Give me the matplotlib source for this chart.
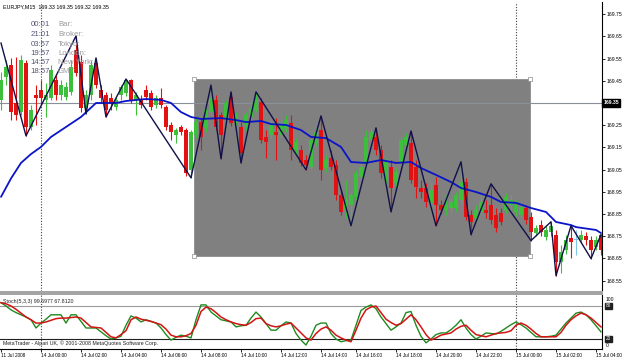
import matplotlib
matplotlib.use('Agg')
import matplotlib.pyplot as plt
from matplotlib.patches import Rectangle
import matplotlib.transforms as mtransforms
import numpy as np

plt.rcParams['font.family'] = ['Liberation Sans', 'DejaVu Sans']

# ---------------- data ----------------
opens = [169.364, 169.467, 169.521, 169.350, 169.310, 169.530, 169.242, 169.386, 169.409, 169.364,
         169.373, 169.454, 169.386, 169.377, 169.400, 169.589, 169.535, 169.328, 169.386, 169.530,
         169.409, 169.386, 169.373, 169.332, 169.386, 169.395, 169.454, 169.364, 169.364, 169.409,
         169.395, 169.341, 169.373, 169.332, 169.251, 169.206, 169.242, 169.229, 169.049, 169.206,
         169.265, 169.238, 169.310, 169.364, 169.296, 169.283, 169.377, 169.265, 169.242, 169.251,
         169.287, 169.319, 169.355, 169.197, 169.206, 169.220, 169.206, 169.238, 169.260, 169.139,
         169.139, 169.094, 169.062, 169.170, 169.229, 169.058, 169.103, 169.071, 168.937, 168.869,
         168.892, 168.928, 169.017, 169.080, 169.184, 169.197, 169.139, 169.004, 169.062, 168.991,
         169.080, 169.161, 169.170, 169.062, 168.968, 168.968, 168.901, 168.982, 168.892, 168.869,
         168.878, 168.878, 168.914, 168.995, 168.847, 168.833, 168.860, 168.869, 168.892, 168.847,
         168.856, 168.869, 168.892, 168.860, 168.847, 168.878, 168.838, 168.765, 168.801, 168.748,
         168.770, 168.757, 168.635, 168.689, 168.743, 168.734, 168.734, 168.752, 168.734, 168.703,
         168.757]
closes = [169.454, 169.512, 169.310, 169.296, 169.544, 169.242, 169.319, 169.373, 169.373, 169.386,
          169.499, 169.386, 169.431, 169.422, 169.512, 169.485, 169.328, 169.386, 169.521, 169.431,
          169.373, 169.319, 169.350, 169.364, 169.422, 169.454, 169.364, 169.386, 169.341, 169.377,
          169.332, 169.373, 169.341, 169.242, 169.220, 169.229, 169.220, 169.035, 169.220, 169.265,
          169.197, 169.319, 169.373, 169.242, 169.206, 169.350, 169.260, 169.296, 169.126, 169.296,
          169.328, 169.364, 169.184, 169.175, 169.260, 169.206, 169.251, 169.274, 169.139, 169.175,
          169.080, 169.071, 169.184, 169.220, 169.049, 169.094, 169.062, 168.937, 168.860, 168.914,
          168.937, 169.035, 169.062, 169.197, 169.220, 169.139, 169.035, 169.085, 168.968, 169.040,
          169.184, 169.197, 169.004, 168.973, 168.950, 168.905, 168.959, 168.892, 168.869, 168.892,
          168.905, 168.937, 168.995, 168.838, 168.815, 168.869, 168.905, 168.856, 168.824, 168.788,
          168.815, 168.928, 168.914, 168.892, 168.883, 168.824, 168.770, 168.788, 168.770, 168.779,
          168.797, 168.635, 168.680, 168.734, 168.725, 168.734, 168.757, 168.734, 168.689, 168.734,
          168.689]
highs = [169.490, 169.544, 169.553, 169.557, 169.566, 169.544, 169.341, 169.431, 169.454, 169.440,
         169.521, 169.476, 169.454, 169.445, 169.544, 169.652, 169.566, 169.409, 169.544, 169.553,
         169.431, 169.400, 169.395, 169.377, 169.431, 169.458, 169.458, 169.400, 169.386, 169.431,
         169.409, 169.386, 169.418, 169.341, 169.265, 169.238, 169.251, 169.238, 169.229, 169.283,
         169.283, 169.341, 169.431, 169.386, 169.310, 169.364, 169.400, 169.310, 169.265, 169.310,
         169.364, 169.400, 169.373, 169.229, 169.274, 169.283, 169.274, 169.296, 169.296, 169.193,
         169.161, 169.116, 169.193, 169.238, 169.292, 169.116, 169.139, 169.094, 168.959, 169.004,
         168.950, 169.049, 169.094, 169.229, 169.238, 169.238, 169.161, 169.103, 169.094, 169.058,
         169.197, 169.215, 169.224, 169.094, 169.004, 168.991, 168.991, 169.017, 168.914, 168.937,
         168.923, 168.950, 169.085, 169.013, 168.869, 168.892, 168.937, 168.914, 168.986, 168.878,
         168.878, 168.946, 168.937, 168.914, 168.901, 168.892, 168.860, 168.801, 168.824, 168.797,
         168.815, 168.779, 168.712, 168.757, 168.797, 168.779, 168.779, 168.770, 168.752, 168.752,
         168.757]
lows = [169.319, 169.431, 169.274, 169.274, 169.296, 169.202, 169.229, 169.251, 169.341, 169.287,
        169.364, 169.364, 169.364, 169.364, 169.386, 169.472, 169.310, 169.301, 169.364, 169.418,
        169.350, 169.287, 169.319, 169.319, 169.364, 169.382, 169.350, 169.296, 169.328, 169.364,
        169.319, 169.328, 169.328, 169.229, 169.184, 169.170, 169.206, 169.022, 169.013, 169.193,
        169.139, 169.220, 169.296, 169.229, 169.099, 169.265, 169.247, 169.251, 169.080, 169.229,
        169.274, 169.310, 169.170, 169.103, 169.193, 169.094, 169.193, 169.220, 169.094, 169.116,
        169.067, 169.049, 169.053, 169.157, 169.004, 169.040, 169.049, 168.914, 168.847, 168.833,
        168.797, 168.914, 169.004, 169.067, 169.161, 169.116, 169.013, 168.982, 168.860, 168.968,
        169.067, 169.139, 168.991, 168.923, 168.923, 168.883, 168.883, 168.797, 168.851, 168.847,
        168.860, 168.865, 168.896, 168.824, 168.757, 168.815, 168.847, 168.833, 168.806, 168.770,
        168.801, 168.856, 168.869, 168.842, 168.833, 168.806, 168.730, 168.752, 168.752, 168.734,
        168.752, 168.572, 168.586, 168.671, 168.653, 168.667, 168.721, 168.712, 168.649, 168.689,
        168.667]

ma_bars = [0, 2, 4, 6, 8, 10, 13, 16, 19, 23, 25, 29, 32, 34, 36, 38, 40, 44, 47, 49,
           52, 54, 57, 60, 62, 65, 68, 70, 73, 76, 79, 82, 84, 87, 90, 92, 95, 98, 100, 103,
           106, 109, 111, 114, 115, 119, 120]
ma_vals = [168.927, 169.010, 169.080, 169.120, 169.152, 169.197, 169.242, 169.287, 169.350, 169.350,
           169.359, 169.368, 169.364, 169.350, 169.309, 169.287, 169.278, 169.282, 169.273, 169.264,
           169.269, 169.255, 169.251, 169.228, 169.197, 169.192, 169.152, 169.084, 169.080, 169.093,
           169.080, 169.084, 169.057, 169.026, 168.994, 168.967, 168.949, 168.927, 168.904, 168.900,
           168.877, 168.859, 168.814, 168.800, 168.791, 168.778, 168.764]

zz_bars = [0, 5, 15, 17, 19, 21, 25, 38, 42, 44, 46, 48, 51, 61, 64, 70, 75, 78, 82, 87,
           92, 94, 98, 106, 110, 111, 114, 118, 120]
zz_vals = [169.620, 169.202, 169.652, 169.301, 169.553, 169.287, 169.458, 169.013, 169.431, 169.099,
           169.400, 169.080, 169.400, 169.049, 169.292, 168.797, 169.238, 168.860, 169.224, 168.797,
           169.085, 168.757, 168.986, 168.730, 168.815, 168.572, 168.797, 168.649, 168.757]

stoch_k = [86, 80, 73, 68, 64, 60, 55, 40, 49, 56, 64, 64, 64, 49, 64, 64, 52, 40, 40, 40,
           33, 26, 20, 22, 25, 45, 62, 58, 51, 55, 52, 49, 40, 28, 18, 23, 27, 25, 22, 55,
           82, 82, 69, 62, 55, 53, 51, 42, 44, 45, 58, 69, 60, 48, 36, 36, 44, 51, 49, 30,
           18, 9, 25, 45, 49, 49, 30, 20, 15, 17, 18, 45, 72, 78, 82, 75, 60, 48, 36, 42,
           49, 68, 70, 45, 25, 13, 20, 28, 31, 31, 37, 45, 55, 40, 28, 20, 25, 31, 30, 29,
           34, 40, 46, 51, 46, 40, 32, 24, 24, 24, 25, 27, 38, 49, 58, 67, 69, 64, 55, 44,
           33]
stoch_d = [86, 84, 80, 74, 67, 60, 55, 49, 49, 51, 54, 57, 58, 58, 59, 60, 58, 50, 42, 41,
           40, 32, 24, 22, 28, 35, 55, 60, 56, 54, 52, 49, 46, 38, 27, 24, 24, 26, 30, 45,
           70, 78, 75, 68, 60, 55, 51, 48, 46, 45, 50, 57, 58, 48, 44, 42, 44, 47, 49, 40,
           31, 22, 18, 30, 38, 42, 36, 27, 22, 18, 15, 36, 58, 73, 78, 80, 68, 56, 50, 45,
           48, 56, 64, 55, 42, 28, 18, 22, 27, 29, 31, 38, 43, 45, 36, 28, 26, 24, 27, 30,
           31, 32, 35, 45, 49, 45, 38, 30, 24, 24, 24, 24, 32, 45, 55, 62, 67, 64, 58, 50,
           42]

price_ticks = [169.75, 169.65, 169.55, 169.45, 169.25, 169.15, 169.05, 168.95, 168.85, 168.75, 168.65, 168.55]
bid_price = 169.35
time_tick_bars = [0, 8, 16, 24, 32, 40, 48, 56, 64, 71, 79, 87, 95, 103, 111, 119]
time_tick_labels = ['11 Jul 2008', '14 Jul 00:00', '14 Jul 02:00', '14 Jul 04:00', '14 Jul 06:00',
                    '14 Jul 08:00', '14 Jul 10:00', '14 Jul 12:00', '14 Jul 14:00', '14 Jul 16:00',
                    '14 Jul 18:00', '14 Jul 20:00', '14 Jul 22:00', '15 Jul 00:00', '15 Jul 02:00',
                    '15 Jul 04:00']
separator_bars = [8, 103]
rect_bars = (38.6, 105.8)
rect_prices = (168.661, 169.458)
stoch_levels = [80, 20]

info_times = ['00:01', '21:01', '03:57', '19:57', '14:57', '18:57']
info_names = ['Bar:', 'Broker:', 'Tokyo:', 'London:', 'New York:', 'GMT:']

# ---------------- layout ----------------
W, H = 625, 361
fig = plt.figure(figsize=(W / 100, H / 100), dpi=100)
fig.patch.set_facecolor('white')

def fx(px):
    return px / W

def fy(py):
    return 1 - py / H

ax = fig.add_axes([fx(0), fy(291), fx(602), (291 - 2) / H])
ax2 = fig.add_axes([fx(0), fy(349), fx(602), (349 - 295) / H])

for a in (ax, ax2):
    a.set_facecolor('white')
    for s in ('top', 'left'):
        a.spines[s].set_visible(False)
    a.spines['right'].set_color('black')
    a.spines['right'].set_linewidth(0.8)
ax.spines['bottom'].set_visible(False)
ax2.spines['bottom'].set_color('black')
ax2.spines['bottom'].set_linewidth(0.8)

ax.set_xlim(-0.2, 120.2)
ax.set_ylim(168.503, 169.805)
ax2.set_xlim(-0.2, 120.2)
ax2.set_ylim(1.8, 100)

# grey band between panels
fig.patches.append(Rectangle((0, fy(295)), fx(603), 4 / H, transform=fig.transFigure,
                             facecolor='#a4a4a4', edgecolor='none', zorder=5))

# separators
for b in separator_bars:
    ax.axvline(b, color='#404040', lw=0.8, ls=(0, (1, 1.5)), zorder=0.5)
    ax2.axvline(b, color='#404040', lw=0.8, ls=(0, (1, 1.5)), zorder=0.5)

# rectangle object
ax.add_patch(Rectangle((rect_bars[0], rect_prices[0]), rect_bars[1] - rect_bars[0],
                       rect_prices[1] - rect_prices[0], facecolor='#808080',
                       edgecolor='#8c8c8c', lw=0.6, zorder=1))
ax.plot([rect_bars[0], rect_bars[1], rect_bars[0], rect_bars[1]],
        [rect_prices[0], rect_prices[0], rect_prices[1], rect_prices[1]],
        ls='none', marker='s', ms=2.2, mfc='white', mec='#8c8c8c', mew=0.5, zorder=1.2)

# bid line
ax.axhline(bid_price, color='#8a8f9c', lw=0.8, zorder=1.5)

# info block
rows_y = [25, 34.5, 44, 53.3, 62.3, 71.3]
for t, n, yy in zip(info_times, info_names, rows_y):
    fig.text(fx(50), fy(yy), t, ha='right', va='center', fontsize=5.6, color='#55557a', zorder=0.2)
    fig.text(fx(58), fy(yy), n, ha='left', va='center', fontsize=5.6, color='#9a9a9e', zorder=0.2)

# candles
O = np.array(opens); C = np.array(closes); Hh = np.array(highs); L = np.array(lows)
x = np.arange(len(O))
cols = np.where(C > O, '#3cc03c', np.where(C < O, '#e31212', '#7fc6e6'))
ax.vlines(x, L, Hh, colors=cols, lw=0.8, zorder=2)
body = np.abs(C - O)
body = np.where(body < 0.003, 0.003, body)
ax.bar(x, body, bottom=np.minimum(O, C) - np.where(C == O, 0.0015, 0), width=0.62,
       color=cols, lw=0, zorder=2.2)

# moving average and zigzag
ax.plot(ma_bars, ma_vals, color='#0a14c8', lw=1.3, zorder=3, solid_capstyle='round')
ax.plot(zz_bars, zz_vals, color='#10104a', lw=1.0, zorder=3.2)

# price axis
ax.yaxis.tick_right()
ax.set_yticks(price_ticks)
ax.set_yticklabels(['%.2f' % p for p in price_ticks])
ax.tick_params(axis='y', length=2, width=0.6, pad=1.5, labelsize=3.7, colors='black')
ax.set_xticks([])
bl = mtransforms.blended_transform_factory(ax.transAxes, ax.transData)
ax.text(1.0025, bid_price, '%.2f' % bid_price, transform=bl, ha='left', va='center',
        fontsize=3.7, color='white', fontweight='bold',
        bbox=dict(boxstyle='square,pad=0.25', fc='black', ec='black'), zorder=6, clip_on=False)

# header texts
fig.text(fx(3), fy(6.5), 'EURJPY,M15  169.33 169.35 169.32 169.35', ha='left', va='center',
         fontsize=3.9, color='black')

# stochastic
ax2.plot(x, stoch_k, color='#1f8a1f', lw=1.0, zorder=3)
ax2.plot(x, stoch_d, color='#d21414', lw=1.1, zorder=3.2)
ax2.axhline(stoch_levels[0], color='#9a9a9a', lw=0.8, zorder=1)
ax2.axhline(stoch_levels[1], color='#202020', lw=0.8, zorder=1)
ax2.text(0.005, 0.88, 'Stoch(5,3,3) 99.6977 67.8120', transform=ax2.transAxes, ha='left',
         va='center', fontsize=3.8, color='#222222')
ax2.text(0.005, 0.10, 'MetaTrader - Alpari UK, \u00a9 2001-2008 MetaQuotes Software Corp.',
         transform=ax2.transAxes, ha='left', va='center', fontsize=3.8, color='#222222')
bl2 = mtransforms.blended_transform_factory(ax2.transAxes, ax2.transData)
ax2.set_yticks([])
ax2.text(1.006, 0.97, '100', transform=ax2.transAxes, ha='left', va='top', fontsize=3.6, clip_on=False)
ax2.text(1.006, 0.02, '0', transform=ax2.transAxes, ha='left', va='bottom', fontsize=3.6, clip_on=False)
for lv in stoch_levels:
    ax2.text(1.006, lv, str(lv), transform=bl2, ha='left', va='center', fontsize=3.4,
             color='white', bbox=dict(boxstyle='square,pad=0.2', fc='#202020', ec='#202020'),
             clip_on=False)

ax2.set_xticks(time_tick_bars)
ax2.set_xticklabels(time_tick_labels, ha='left')
ax2.tick_params(axis='x', length=2, width=0.6, pad=1.2, labelsize=3.4, colors='black')

fig.savefig('out.png', dpi=100, facecolor='white')
